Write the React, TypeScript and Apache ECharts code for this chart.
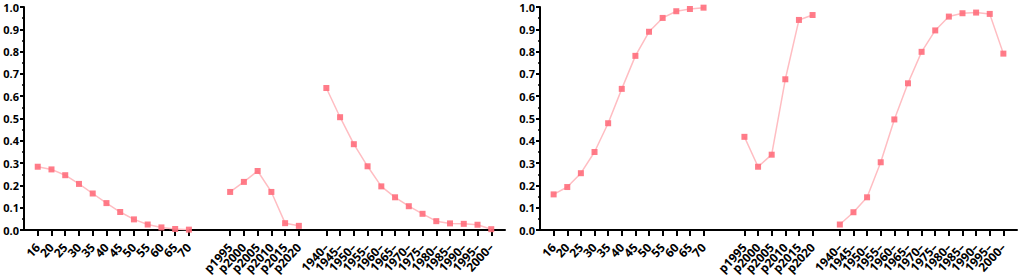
import React, { useEffect, useRef } from "react";
import * as echarts from "echarts";

const ageLabels = ["16", "20", "25", "30", "35", "40", "45", "50", "55", "60", "65", "70"];
const periodLabels = ["p1995", "p2000", "p2005", "p2010", "p2015", "p2020"];
const cohortLabels = ["1940–", "1945–", "1950–", "1955–", "1960–", "1965–", "1970–", "1975–", "1980–", "1985–", "1990–", "1995–", "2000–"];

const leftAge = [0.284, 0.272, 0.246, 0.207, 0.164, 0.121, 0.081, 0.048, 0.025, 0.012, 0.005, 0.002];
const leftPeriod = [0.171, 0.216, 0.265, 0.171, 0.031, 0.019];
const leftCohort = [0.637, 0.506, 0.385, 0.286, 0.196, 0.147, 0.107, 0.073, 0.040, 0.030, 0.028, 0.024, 0.004];

const rightAge = [0.160, 0.193, 0.255, 0.350, 0.479, 0.633, 0.781, 0.889, 0.951, 0.981, 0.991, 0.997];
const rightPeriod = [0.418, 0.284, 0.338, 0.676, 0.942, 0.964];
const rightCohort = [0.025, 0.080, 0.147, 0.304, 0.496, 0.658, 0.799, 0.895, 0.957, 0.972, 0.975, 0.969, 0.791];

const yTicks = [0, 0.1, 0.2, 0.3, 0.4, 0.5, 0.6, 0.7, 0.8, 0.9, 1.0];

// category layout: leading blank, ages, 2 blanks, periods, 1 blank, cohorts, trailing blank
const categories: string[] = ["", ...ageLabels, "", "", ...periodLabels, "", ...cohortLabels, ""];

function buildSeries(age: number[], period: number[], cohort: number[]) {
  return [null, ...age, null, null, ...period, null, ...cohort, null];
}

const FONT = "Open Sans";

function xAxis(gridIndex: number) {
  return {
    type: "category",
    gridIndex,
    data: categories,
    boundaryGap: false,
    axisLine: { show: true, lineStyle: { color: "#000", width: 2 } },
    axisTick: {
      show: true,
      length: 6,
      lineStyle: { color: "#000", width: 2 },
      interval: (_i: number, v: string) => v !== "",
    },
    axisLabel: {
      interval: 0,
      rotate: 47,
      margin: 15,
      color: "#000",
      fontFamily: FONT,
      fontWeight: "bold",
      fontSize: 12,
    },
    splitLine: { show: false },
  };
}

function yAxis(gridIndex: number) {
  return {
    type: "value",
    gridIndex,
    min: 0,
    max: 1,
    interval: 0.1,
    axisLine: { show: true, lineStyle: { color: "#000", width: 2 } },
    axisTick: { show: true, length: 4, lineStyle: { color: "#000", width: 2 } },
    minorTick: { show: true, splitNumber: 2, length: 2, lineStyle: { color: "#000", width: 1.5 } },
    axisLabel: {
      margin: 5,
      color: "#000",
      fontFamily: FONT,
      fontWeight: "bold",
      fontSize: 11,
      formatter: (v: number) => {
        const t = yTicks.find((x) => Math.abs(x - v) < 1e-6);
        return (t ?? v).toFixed(1);
      },
    },
    splitLine: { show: false },
  };
}

function lineSeries(idx: number, data: (number | null)[]) {
  return {
    type: "line",
    xAxisIndex: idx,
    yAxisIndex: idx,
    data,
    connectNulls: false,
    symbol: "rect",
    symbolSize: 6,
    itemStyle: { color: "#FF6E7C", opacity: 0.9 },
    lineStyle: { color: "#FFBDC2", width: 1.5 },
  };
}

export default function App() {
  const ref = useRef<HTMLDivElement>(null);
  useEffect(() => {
    if (!ref.current) return;
    const chart = echarts.init(ref.current, null, { renderer: "svg" });
    chart.setOption({
      animation: false,
      backgroundColor: "#fff",
      grid: [
        { left: 24, right: 516, top: 7, bottom: 46 },
        { left: 540, right: 4, top: 7, bottom: 45 },
      ],
      xAxis: [xAxis(0), xAxis(1)],
      yAxis: [yAxis(0), yAxis(1)],
      series: [
        lineSeries(0, buildSeries(leftAge, leftPeriod, leftCohort)),
        lineSeries(1, buildSeries(rightAge, rightPeriod, rightCohort)),
      ],
    });
    return () => chart.dispose();
  }, []);
  return (
    <div
      ref={ref}
      style={{ position: "fixed", left: 0, top: 0, width: 1021, height: 277 }}
    />
  );
}
